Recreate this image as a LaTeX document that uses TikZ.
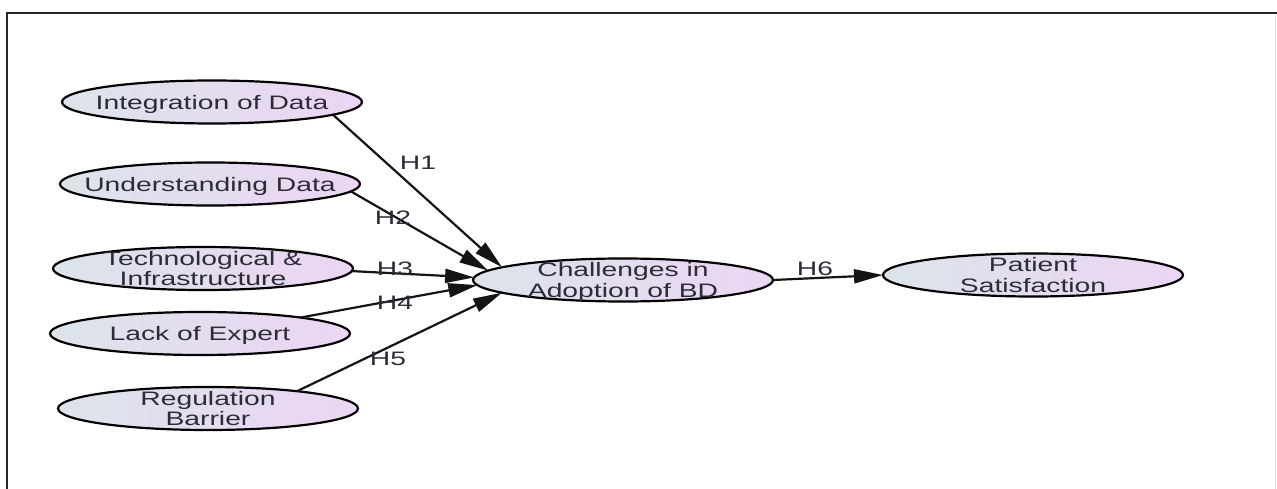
\documentclass[tikz,border=0pt]{standalone}
\usepackage{graphicx}
\usepackage{fontspec}
\setmainfont{Liberation Sans}
\usetikzlibrary{shapes.geometric,arrows.meta}
\definecolor{leftfill}{HTML}{DCE4EA}
\definecolor{rightfill}{HTML}{ECD5F3}
\definecolor{txtcol}{HTML}{2C2C38}
\newcommand{\wtxt}[1]{\scalebox{1.45}[1]{\begin{tabular}{@{}c@{}}#1\end{tabular}}}
\tikzset{
  bub/.style={ellipse, draw=black, line width=2.2pt, left color=leftfill, right color=rightfill,
    minimum width=300pt, minimum height=43pt, inner sep=0pt, outer sep=0pt},
  txt/.style={text=txtcol, inner sep=0pt, yshift=-3pt,
    font=\fontsize{19.5}{20.5}\selectfont},
  hl/.style={text=txtcol, inner sep=0pt, yshift=-3pt,
    font=\fontsize{19.5}{20.5}\selectfont},
  conn/.style={draw=black!92, line width=2.2pt, -{Triangle[length=29pt,width=14pt]}},
}
\begin{document}
\begin{tikzpicture}[x=1pt,y=-1pt]
\useasboundingbox (0,0) rectangle (1277,489);
% frame
\draw[line width=2.2pt, black!85] (7,489) -- (7,13) -- (1277,13);
\draw[line width=1pt, black!12] (1275,14) -- (1275,489);

% nodes
\node[bub] (int) at (212,102) {};
\node[txt] at (int) {\wtxt{Integration of Data}};
\node[bub] (und) at (210,184) {};
\node[txt] at (und) {\wtxt{Understanding Data}};
\node[bub] (tec) at (203,268.5) {};
\node[txt] at (tec) {\wtxt{Technological \&\\Infrastructure}};
\node[bub] (lac) at (200,333.5) {};
\node[txt] at (lac) {\wtxt{Lack of Expert}};
\node[bub] (reg) at (208,408.5) {};
\node[txt] at (reg) {\wtxt{Regulation\\Barrier}};
\node[bub] (cha) at (623,280) {};
\node[txt] at (cha) {\wtxt{Challenges in\\Adoption of BD}};
\node[bub] (pat) at (1033,275) {};
\node[txt] at (pat) {\wtxt{Patient\\Satisfaction}};

% connectors
\draw[conn] (int.-6) -- (cha.174);
\draw[conn] (und.-3) -- (cha.176.5);
\draw[conn] (tec.-1.5) -- (cha.179);
\draw[conn] (lac.9) -- (cha.182);
\draw[conn] (reg.11) -- (cha.186);
\draw[conn] (cha.east) -- (pat.west);

% labels
\node[hl] (h1) at (418,162) {\wtxt{H1}};
\node[hl] (h2) at (393,217) {\wtxt{H2}};
\node[hl] (h3) at (395,268) {\wtxt{H3}};
\node[hl] (h4) at (395,302) {\wtxt{H4}};
\node[hl] (h5) at (388,358) {\wtxt{H5}};
\node[hl] (h6) at (815,268) {\wtxt{H6}};
\end{tikzpicture}
\end{document}
